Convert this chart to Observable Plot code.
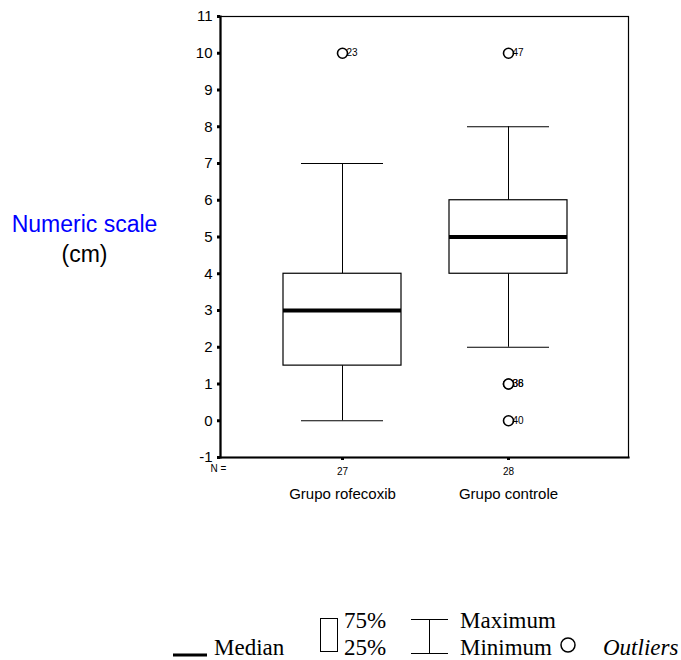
<!DOCTYPE html>
<html><head><meta charset="utf-8">
<script src="https://cdn.jsdelivr.net/npm/d3@7"></script>
<script src="https://cdn.jsdelivr.net/npm/@observablehq/plot@0.6"></script>
<style>
body{margin:0;background:#fff}
#wrap{position:relative;width:681px;height:660px;font-family:Arial,"Liberation Sans",sans-serif;overflow:hidden}
#legend{position:absolute;left:0;top:520px}
</style>
</head><body><div id="wrap"><div id="chart"></div><div id="legend"></div></div>
<script>
const groups = ["Grupo rofecoxib", "Grupo controle"];
const nCounts = [27, 28];
const mins = [0, 2];
const q1s = [1.5, 4];
const medians = [3, 5];
const q3s = [4, 6];
const maxs = [7, 8];
const outlierGroup = ["Grupo rofecoxib", "Grupo controle", "Grupo controle", "Grupo controle", "Grupo controle"];
const outlierValue = [10, 10, 1, 1, 0];
const outlierLabel = ["23", "47", "36", "38", "40"];
const yTicks = [-1, 0, 1, 2, 3, 4, 5, 6, 7, 8, 9, 10, 11];
const yLabel = "Numeric scale";
const yUnit = "(cm)";
const legendLabels = ["Median", "75%", "25%", "Maximum", "Minimum", "Outliers"];

const boxes = groups.map((g, i) => ({g, n: nCounts[i], min: mins[i], q1: q1s[i], med: medians[i], q3: q3s[i], max: maxs[i]}));
const outs = outlierValue.map((v, i) => ({g: outlierGroup[i], v, label: outlierLabel[i]}));
const nByGroup = new Map(groups.map((g, i) => [g, nCounts[i]]));

const chart = Plot.plot({
  width: 681, height: 520,
  marginLeft: 220, marginRight: 53, marginTop: 16, marginBottom: 63,
  style: {fontFamily: "Arial, 'Liberation Sans', sans-serif", color: "#000", background: "#fff", overflow: "visible"},
  x: {type: "band", domain: groups, paddingInner: 0.289, paddingOuter: 0.373, align: 0.508},
  y: {domain: [-1, 11]},
  marks: [
    Plot.frame({stroke: "#000", strokeWidth: 1.2}),
    Plot.frame({anchor: "left", stroke: "#000", strokeWidth: 2.2}),
    Plot.frame({anchor: "bottom", stroke: "#000", strokeWidth: 2.2}),
    Plot.ruleX(boxes, {x: "g", y1: "q3", y2: "max", stroke: "#000"}),
    Plot.ruleX(boxes, {x: "g", y1: "min", y2: "q1", stroke: "#000"}),
    Plot.tickY(boxes, {x: "g", y: "max", insetLeft: 18, insetRight: 18, stroke: "#000"}),
    Plot.tickY(boxes, {x: "g", y: "min", insetLeft: 18, insetRight: 18, stroke: "#000"}),
    Plot.barY(boxes, {x: "g", y1: "q1", y2: "q3", fill: "white", stroke: "#000", strokeWidth: 1.2}),
    Plot.tickY(boxes, {x: "g", y: "med", stroke: "#000", strokeWidth: 4}),
    Plot.dot(outs, {x: "g", y: "v", r: 5, stroke: "#000", strokeWidth: 1.6, fill: "white"}),
    Plot.text(outs, {x: "g", y: "v", text: "label", dx: 4, textAnchor: "start", fontSize: 10, fill: "#000"}),
    Plot.axisY({ticks: yTicks, tickSize: 3, strokeWidth: 3, tickPadding: 5, fontSize: 15, tickFormat: d => String(d), label: null, fill: "#000"}),
    Plot.axisX({tickSize: 3, strokeWidth: 3, tickPadding: 7, fontSize: 10, tickFormat: g => String(nByGroup.get(g)), label: null, fill: "#000"}),
    Plot.axisX({tickSize: 0, tickPadding: 31, fontSize: 15, label: null, fill: "#000"}),
    Plot.text(["N ="], {frameAnchor: "bottom-left", dy: 14, dx: -2, fontSize: 10, textAnchor: "middle", fill: "#000"}),
    Plot.text([yLabel], {frameAnchor: "left", dx: -136, dy: -12.5, fontSize: 23, fill: "#0000ff", textAnchor: "middle"}),
    Plot.text([yUnit], {frameAnchor: "left", dx: -136, dy: 17.5, fontSize: 23, fill: "#000", textAnchor: "middle"})
  ]
});
document.getElementById("chart").appendChild(chart);

// Legend (key explaining the box-plot symbols)
const oy = 520;
const lg = d3.select("#legend").append("svg").attr("width", 681).attr("height", 140)
  .style("font-family", "'Liberation Serif', 'Times New Roman', serif").style("font-size", "23px");
lg.append("line").attr("x1", 173).attr("x2", 207).attr("y1", 655 - oy).attr("y2", 655 - oy).attr("stroke", "#000").attr("stroke-width", 3);
lg.append("text").attr("x", 214).attr("y", 655 - oy).text(legendLabels[0]);
lg.append("rect").attr("x", 320.5).attr("y", 618.5 - oy).attr("width", 17).attr("height", 33).attr("fill", "none").attr("stroke", "#000");
lg.append("text").attr("x", 344).attr("y", 628 - oy).text(legendLabels[1]);
lg.append("text").attr("x", 344).attr("y", 655 - oy).text(legendLabels[2]);
lg.append("line").attr("x1", 411).attr("x2", 448).attr("y1", 619.5 - oy).attr("y2", 619.5 - oy).attr("stroke", "#000");
lg.append("line").attr("x1", 429.5).attr("x2", 429.5).attr("y1", 619.5 - oy).attr("y2", 653.5 - oy).attr("stroke", "#000");
lg.append("line").attr("x1", 411).attr("x2", 448).attr("y1", 653.5 - oy).attr("y2", 653.5 - oy).attr("stroke", "#000");
lg.append("text").attr("x", 460).attr("y", 628 - oy).text(legendLabels[3]);
lg.append("text").attr("x", 460).attr("y", 655 - oy).text(legendLabels[4]);
lg.append("circle").attr("cx", 568).attr("cy", 645 - oy).attr("r", 7).attr("fill", "none").attr("stroke", "#000").attr("stroke-width", 1.5);
lg.append("text").attr("x", 603).attr("y", 655 - oy).style("font-style", "italic").text(legendLabels[5]);
</script>
</body></html>
